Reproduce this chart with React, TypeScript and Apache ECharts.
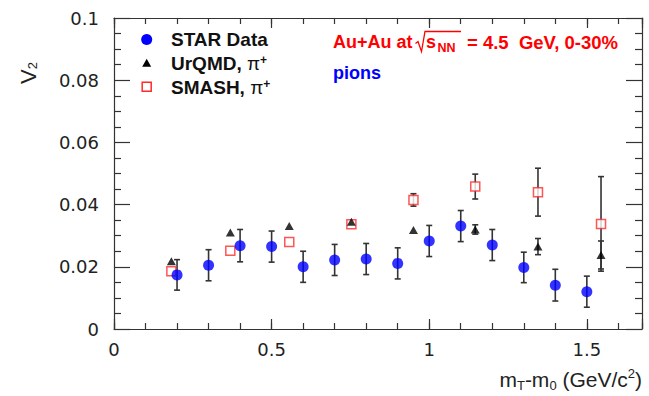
import React, { useEffect, useRef } from 'react';
import * as echarts from 'echarts';

// ---- data ----
const starX = [0.2, 0.3, 0.4, 0.5, 0.6, 0.7, 0.8, 0.9, 1.0, 1.1, 1.2, 1.3, 1.4, 1.5];
const starY = [0.0174, 0.0205, 0.0268, 0.0265, 0.0200, 0.0222, 0.0225, 0.0211, 0.0283, 0.0331, 0.0270, 0.0198, 0.0141, 0.0120];
const starErr = [0.0049, 0.0050, 0.0052, 0.0050, 0.0050, 0.0050, 0.0050, 0.0050, 0.0050, 0.0050, 0.0050, 0.0049, 0.0051, 0.0050];

const urqmdX = [0.182, 0.369, 0.556, 0.753, 0.950, 1.146, 1.345, 1.545];
const urqmdY = [0.0218, 0.0310, 0.0331, 0.0345, 0.0318, 0.0320, 0.0265, 0.0238];
const urqmdErr = [0, 0, 0, 0, 0, 0.0015, 0.0026, 0.0045];

const smashX = [0.182, 0.369, 0.556, 0.753, 0.950, 1.146, 1.345, 1.545];
const smashY = [0.0186, 0.0252, 0.0280, 0.0337, 0.0415, 0.0458, 0.0440, 0.0338];
const smashErr = [0, 0, 0, 0, 0.0020, 0.0040, 0.0077, 0.0152];

const xTickLabels = ['0', '0.5', '1', '1.5'];
const yTickLabels = ['0', '0.02', '0.04', '0.06', '0.08', '0.1'];

const X_MAX = 1.675;
const AXIS_COLOR = '#333';
const FRAME_FONT = 'DejaVu Sans';
const TEXT_FONT = 'Liberation Sans';

function errorSeries(xs: number[], ys: number[], es: number[]) {
  return {
    type: 'custom',
    xAxisIndex: 0,
    yAxisIndex: 0,
    silent: true,
    z: 1,
    data: xs.map((x, i) => [x, ys[i] - es[i], ys[i] + es[i], es[i]]),
    encode: { x: 0, y: [1, 2] },
    renderItem: (params: any, api: any) => {
      if (api.value(3) <= 0) return null;
      const lo = api.coord([api.value(0), api.value(1)]);
      const hi = api.coord([api.value(0), api.value(2)]);
      const w = 3;
      const style = { stroke: AXIS_COLOR, lineWidth: 1.6 };
      return {
        type: 'group',
        children: [
          { type: 'line', shape: { x1: lo[0], y1: lo[1], x2: hi[0], y2: hi[1] }, style },
          { type: 'line', shape: { x1: lo[0] - w, y1: lo[1], x2: lo[0] + w, y2: lo[1] }, style },
          { type: 'line', shape: { x1: hi[0] - w, y1: hi[1], x2: hi[0] + w, y2: hi[1] }, style },
        ],
      };
    },
  };
}

function xAxisDef(position: 'top' | 'bottom', major: boolean) {
  return {
    type: 'value',
    position,
    min: 0,
    max: X_MAX,
    interval: major ? 0.5 : 0.1,
    axisLine: { show: major, onZero: false, lineStyle: { color: AXIS_COLOR, width: 1.2 } },
    axisTick: { show: true, inside: true, length: major ? 10 : 6, lineStyle: { color: AXIS_COLOR, width: 1.2 } },
    axisLabel: {
      show: major && position === 'bottom',
      margin: 11,
      fontFamily: FRAME_FONT,
      fontSize: 18,
      color: '#222',
      formatter: (v: number) => {
        const k = Math.round(v / 0.5);
        return Math.abs(v - k * 0.5) < 1e-6 ? xTickLabels[k] ?? '' : '';
      },
    },
    splitLine: { show: false },
  };
}

function yAxisDef(position: 'left' | 'right') {
  return {
    type: 'value',
    position,
    min: 0,
    max: 0.1,
    interval: 0.02,
    axisLine: { show: true, onZero: false, lineStyle: { color: AXIS_COLOR, width: 1.2 } },
    axisTick: { show: true, inside: true, length: 16, lineStyle: { color: AXIS_COLOR, width: 1.2 } },
    minorTick: { show: true, splitNumber: 4, length: 7, lineStyle: { color: AXIS_COLOR, width: 1.2 } },
    axisLabel: {
      show: position === 'left',
      margin: 15,
      fontFamily: FRAME_FONT,
      fontSize: 18,
      color: '#222',
      formatter: (v: number) => yTickLabels[Math.round(v / 0.02)] ?? '',
    },
    splitLine: { show: false },
    minorSplitLine: { show: false },
  };
}

export default function App() {
  const ref = useRef<HTMLDivElement>(null);

  useEffect(() => {
    if (!ref.current) return;
    const chart = echarts.init(ref.current, null, { renderer: 'svg' });

    const legendTextStyle = {
      fontFamily: TEXT_FONT,
      fontWeight: 'bold',
      fontSize: 19,
      fill: '#111',
      verticalAlign: 'middle',
      align: 'left',
    };

    const option: any = {
      animation: false,
      backgroundColor: '#fff',
      grid: { left: 114, right: 7, top: 18, bottom: 67, containLabel: false },
      xAxis: [xAxisDef('bottom', true), xAxisDef('bottom', false), xAxisDef('top', true), xAxisDef('top', false)],
      yAxis: [yAxisDef('left'), yAxisDef('right')],
      series: [
        errorSeries(starX, starY, starErr),
        errorSeries(smashX, smashY, smashErr),
        errorSeries(urqmdX, urqmdY, urqmdErr),
        {
          name: 'SMASH, π+',
          type: 'scatter',
          xAxisIndex: 0,
          yAxisIndex: 0,
          z: 3,
          symbol: 'rect',
          symbolSize: 9,
          itemStyle: { color: '#fff', borderColor: '#ff2a2a', borderWidth: 1.5 },
          data: smashX.map((x, i) => [x, smashY[i]]),
        },
        {
          name: 'UrQMD, π+',
          type: 'scatter',
          xAxisIndex: 0,
          yAxisIndex: 0,
          z: 4,
          symbol: 'triangle',
          symbolSize: [9, 8],
          itemStyle: { color: '#000' },
          data: urqmdX.map((x, i) => [x, urqmdY[i]]),
        },
        {
          name: 'STAR Data',
          type: 'scatter',
          xAxisIndex: 0,
          yAxisIndex: 0,
          z: 5,
          symbol: 'circle',
          symbolSize: 11,
          itemStyle: { color: '#0000ff' },
          data: starX.map((x, i) => [x, starY[i]]),
        },
      ],
      graphic: [
        // y-axis title
        {
          type: 'text',
          x: 28,
          y: 73,
          rotation: Math.PI / 2,
          style: {
            text: 'V{sub|2}',
            fontFamily: TEXT_FONT,
            fontSize: 22,
            fill: '#222',
            align: 'center',
            verticalAlign: 'middle',
            rich: { sub: { fontSize: 13, verticalAlign: 'bottom', lineHeight: 14, fontFamily: TEXT_FONT, fill: '#222' } },
          },
        },
        // x-axis title
        {
          type: 'text',
          x: 642,
          y: 379,
          style: {
            text: 'm{sub|T}-m{sub|0} (GeV/c{sup|2})',
            fontFamily: TEXT_FONT,
            fontSize: 21,
            lineHeight: 25,
            fill: '#222',
            align: 'right',
            verticalAlign: 'middle',
            rich: {
              sub: { fontSize: 13, lineHeight: 14, verticalAlign: 'bottom', fontFamily: TEXT_FONT, fill: '#222' },
              sup: { fontSize: 13, lineHeight: 14, verticalAlign: 'top', fontFamily: TEXT_FONT, fill: '#222' },
            },
          },
        },
        // legend
        { type: 'circle', shape: { cx: 146.7, cy: 39.5, r: 5.5 }, style: { fill: '#0000ff' } },
        { type: 'polygon', shape: { points: [[146.7, 58.7], [151.2, 66.7], [142.2, 66.7]] }, style: { fill: '#000' } },
        { type: 'rect', shape: { x: 142.2, y: 82.2, width: 9, height: 9 }, style: { fill: '#fff', stroke: '#ff2a2a', lineWidth: 1.5 } },
        { type: 'text', x: 171, y: 39.5, style: { ...legendTextStyle, text: 'STAR Data' } },
        {
          type: 'text', x: 171, y: 63,
          style: {
            ...legendTextStyle,
            text: 'UrQMD, {pi|π}{sup|+}',
            rich: {
              pi: { fontFamily: TEXT_FONT, fontSize: 19, fontWeight: 'normal', fill: '#111' },
              sup: { fontFamily: TEXT_FONT, fontSize: 12, fontWeight: 'bold', verticalAlign: 'top', fill: '#111' },
            },
          },
        },
        {
          type: 'text', x: 171, y: 87,
          style: {
            ...legendTextStyle,
            text: 'SMASH, {pi|π}{sup|+}',
            rich: {
              pi: { fontFamily: TEXT_FONT, fontSize: 19, fontWeight: 'normal', fill: '#111' },
              sup: { fontFamily: TEXT_FONT, fontSize: 12, fontWeight: 'bold', verticalAlign: 'top', fill: '#111' },
            },
          },
        },
        // annotation
        { type: 'text', x: 333, y: 42, style: { text: 'Au+Au at', fontFamily: TEXT_FONT, fontWeight: 'bold', fontSize: 18, fill: '#ff0000', verticalAlign: 'middle', align: 'left' } },
        {
          type: 'polyline',
          shape: { points: [[415.5, 43.5], [418, 41.5], [421.5, 51.5], [425, 31.5], [461, 31.5]] },
          style: { stroke: '#ff0000', lineWidth: 1.3, fill: null },
        },
        { type: 'text', x: 426, y: 42, style: { text: 's', fontFamily: TEXT_FONT, fontWeight: 'bold', fontSize: 18, fill: '#ff0000', verticalAlign: 'middle', align: 'left' } },
        { type: 'text', x: 437.5, y: 48, style: { text: 'NN', fontFamily: TEXT_FONT, fontWeight: 'bold', fontSize: 12.5, fill: '#ff0000', verticalAlign: 'middle', align: 'left' } },
        { type: 'text', x: 467, y: 42, style: { text: '= 4.5  GeV, 0-30%', fontFamily: TEXT_FONT, fontWeight: 'bold', fontSize: 18.5, fill: '#ff0000', verticalAlign: 'middle', align: 'left' } },
        { type: 'text', x: 333, y: 73, style: { text: 'pions', fontFamily: TEXT_FONT, fontWeight: 'bold', fontSize: 18, fill: '#0000ff', verticalAlign: 'middle', align: 'left' } },
      ],
    };

    chart.setOption(option);
    return () => chart.dispose();
  }, []);

  return (
    <div
      ref={ref}
      style={{ position: 'fixed', left: 0, top: 0, width: 649, height: 396, background: '#fff' }}
    />
  );
}
